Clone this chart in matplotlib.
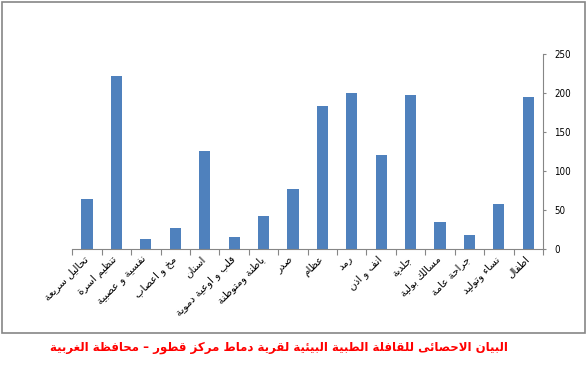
import numpy as np
import matplotlib
matplotlib.use("Agg")
import matplotlib.pyplot as plt
from matplotlib.patches import Rectangle

categories = [
    "تحاليل سريعة", "تنظيم اسرة", "نفسية و عصبية", "مخ و اعصاب", "اسنان",
    "قلب و اوعية دموية", "باطنة ومتوطنة", "صدر", "عظام", "رمد",
    "انف و اذن", "جلدية", "مسالك بولية", "جراحة عامة", "نساء وتوليد", "اطفال",
]
values = [65, 222, 13, 27, 126, 16, 43, 77, 184, 200, 121, 198, 35, 18, 58, 195]
y_ticks = [0, 50, 100, 150, 200, 250]
title = "البيان الاحصائى للقافلة الطبية البيئية لقرية دماط مركز قطور – محافظة الغربية"


# matplotlib has no arabic shaping, so map letters to presentation forms by hand
_order = [("ء", 1), ("آ", 2), ("أ", 2), ("ؤ", 2), ("إ", 2), ("ئ", 4), ("ا", 2),
          ("ب", 4), ("ة", 2), ("ت", 4), ("ث", 4), ("ج", 4), ("ح", 4), ("خ", 4),
          ("د", 2), ("ذ", 2), ("ر", 2), ("ز", 2), ("س", 4), ("ش", 4), ("ص", 4),
          ("ض", 4), ("ط", 4), ("ظ", 4), ("ع", 4), ("غ", 4), ("ف", 4), ("ق", 4),
          ("ك", 4), ("ل", 4), ("م", 4), ("ن", 4), ("ه", 4), ("و", 2), ("ى", 2),
          ("ي", 4)]
FORMS = {}
_code = 0xFE80
for ch, n in _order:
    FORMS[ch] = [_code + i for i in range(n)]
    _code += n


def shape(text):
    chars = list(text)
    out = []
    i = 0
    while i < len(chars):
        c = chars[i]
        if c not in FORMS:
            out.append(c)
            i += 1
            continue
        prev = chars[i - 1] if i > 0 else None
        joins_prev = prev in FORMS and len(FORMS[prev]) == 4
        if c == "ل" and i + 1 < len(chars) and chars[i + 1] == "ا":
            out.append(chr(0xFEFC if joins_prev else 0xFEFB))
            i += 2
            continue
        nxt = chars[i + 1] if i + 1 < len(chars) else None
        joins_next = len(FORMS[c]) == 4 and nxt in FORMS and len(FORMS[nxt]) > 1
        f = FORMS[c]
        if len(f) == 1:
            out.append(chr(f[0]))
        elif joins_prev and joins_next:
            out.append(chr(f[3]))
        elif joins_prev:
            out.append(chr(f[1]))
        elif joins_next:
            out.append(chr(f[2]))
        else:
            out.append(chr(f[0]))
        i += 1
    return "".join(out)[::-1]


plt.rcParams["font.family"] = ["DejaVu Sans"]

fig = plt.figure(figsize=(5.86, 3.69), dpi=100)
ax = fig.add_axes([0.1234, 0.3244, 0.8032, 0.5293])

x = np.arange(len(values))
ax.bar(x, values, width=0.38, color="#4F81BD")

ax.set_xlim(-0.5, len(values) - 0.5)
ax.set_ylim(0, 250)
ax.yaxis.tick_right()
ax.set_yticks(y_ticks)
ax.set_yticklabels([str(v) for v in y_ticks], fontsize=7, fontstretch="condensed")
ax.tick_params(axis="y", direction="out", length=2.5, color="#868686", pad=5.5)

ax.set_xticks(np.arange(-0.5, len(values), 1.0))
ax.set_xticklabels([])
ax.tick_params(axis="x", direction="out", length=4, color="#868686")
for xi, lab in zip(x, categories):
    ax.text(xi - 0.15, -6, shape(lab), rotation=45, ha="right", va="top",
            rotation_mode="anchor", fontsize=7.5)

for side in ["top", "left"]:
    ax.spines[side].set_visible(False)
for side in ["bottom", "right"]:
    ax.spines[side].set_color("#868686")

fig.patches.append(Rectangle((1.5 / 586, 1 - 332.5 / 369), 583 / 586, 331 / 369,
                             transform=fig.transFigure, fill=False,
                             edgecolor="#868686", linewidth=1.2))

fig.text(279 / 586, 1 - 348 / 369, shape(title), color="red", fontsize=8.5,
         fontweight="bold", ha="center", va="center")

fig.savefig("out.png", dpi=100)
